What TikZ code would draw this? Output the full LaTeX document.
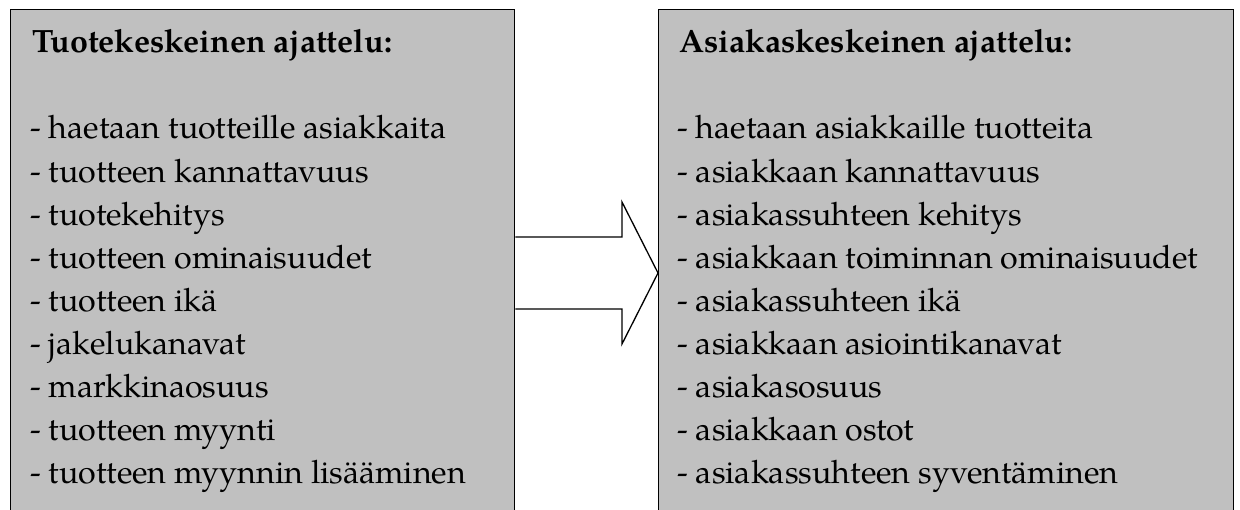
\documentclass[tikz,border=0pt]{standalone}
\usepackage{fontspec}
\setmainfont{TeX Gyre Pagella}
\definecolor{panelgray}{HTML}{C0C0C0}
\begin{document}
\begin{tikzpicture}[x=1pt,y=-1pt,
  panel/.style={draw=black, line width=1.3pt, fill=panelgray, inner sep=0pt, anchor=north west},
  head/.style={font=\fontsize{32.2}{43}\selectfont\bfseries, anchor=base west, inner sep=0pt},
  item/.style={font=\fontsize{32.2}{43}\selectfont, anchor=base west, inner sep=0pt},
  blockarrow/.style={draw=black, line width=1.3pt, fill=white, line join=miter}]
\useasboundingbox (0,0) rectangle (1240,510);
\clip (0,0) rectangle (1240,510);

% the two panels, running off the lower edge
\node[panel, minimum width=504pt, minimum height=560pt] (tuote) at (10,9) {};
\node[panel, minimum width=575pt, minimum height=560pt] (asiakas) at (658,9) {};

% block arrow from the left panel to the right one
\coordinate (a1) at (tuote.north east |- 0,237);
\coordinate (a2) at (tuote.north east |- 0,309);
\coordinate (tip) at (asiakas.north west |- 0,273);
\draw[blockarrow] (a1) -- (622,237) -- (622,202) -- (tip)
  -- (622,344) -- (622,309) -- (a2);

% left panel text
\node[head] (th) at (32,53) {Tuotekeskeinen ajattelu:};
\foreach \t [count=\i from 0] in {%
  haetaan tuotteille asiakkaita,
  tuotteen kannattavuus,
  tuotekehitys,
  tuotteen ominaisuudet,
  tuotteen ikä,
  jakelukanavat,
  markkinaosuus,
  tuotteen myynti,
  tuotteen myynnin lisääminen}
  \node[item] (t\i) at (30,139+43.1*\i) {- \t};

% right panel text
\node[head] (ah) at (679,53) {Asiakaskeskeinen ajattelu:};
\foreach \t [count=\i from 0] in {%
  haetaan asiakkaille tuotteita,
  asiakkaan kannattavuus,
  asiakassuhteen kehitys,
  asiakkaan toiminnan ominaisuudet,
  asiakassuhteen ikä,
  asiakkaan asiointikanavat,
  asiakasosuus,
  asiakkaan ostot,
  asiakassuhteen syventäminen}
  \node[item] (a\i) at (677,139+43.1*\i) {- \t};
\end{tikzpicture}
\end{document}
